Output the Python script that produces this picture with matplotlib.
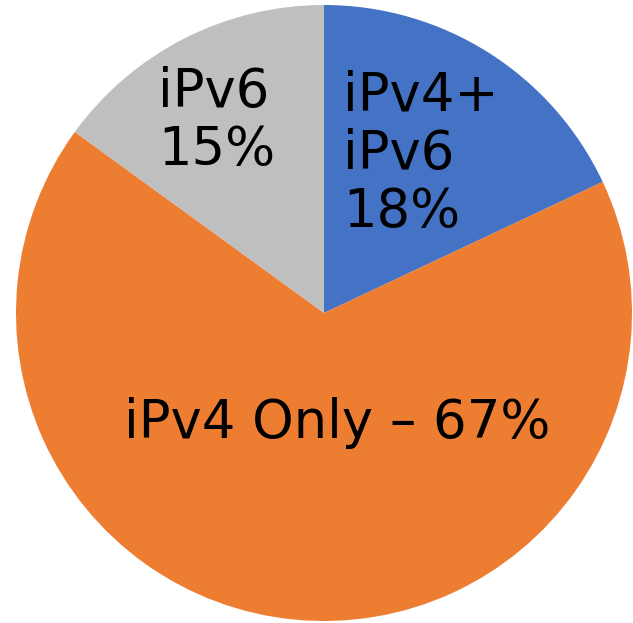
import matplotlib
matplotlib.use("Agg")
import matplotlib.pyplot as plt

# slices, clockwise from 12 o'clock
names = ["iPv4+ iPv6", "iPv4 Only", "iPv6"]
shares = [18, 67, 15]
colors = ["#4472C4", "#ED7D31", "#BFBFBF"]

# label text, one entry per line
label_lines = [
    ["iPv4+", "iPv6", "18%"],
    ["iPv4 Only \u2013 67%"],
    ["iPv6", "15%"],
]

fig = plt.figure(figsize=(6.33, 6.23), dpi=100)
ax = fig.add_axes([16 / 633, 2 / 623, 616 / 633, 616 / 623])

ax.pie(shares, colors=colors, startangle=90, counterclock=False,
       radius=1, wedgeprops=dict(linewidth=0))
ax.set_xlim(-1, 1)
ax.set_ylim(-1, 1)
ax.set_aspect("auto")
ax.axis("off")

font = dict(family=["DejaVu Sans"], fontsize=38, color="black")
step = 0.19  # line gap in data units

# blue slice label
x0, y0 = 0.062, 0.659
for i, line in enumerate(label_lines[0]):
    ax.text(x0, y0 - i * step, line, ha="left", va="baseline", **font)

# orange slice label
ax.text(0.044, -0.406, label_lines[1][0], ha="center", va="baseline", **font)

# gray slice label
x0, y0 = -0.539, 0.669
for i, line in enumerate(label_lines[2]):
    ax.text(x0, y0 - i * step, line, ha="left", va="baseline", **font)

fig.savefig("out.png", dpi=100)
